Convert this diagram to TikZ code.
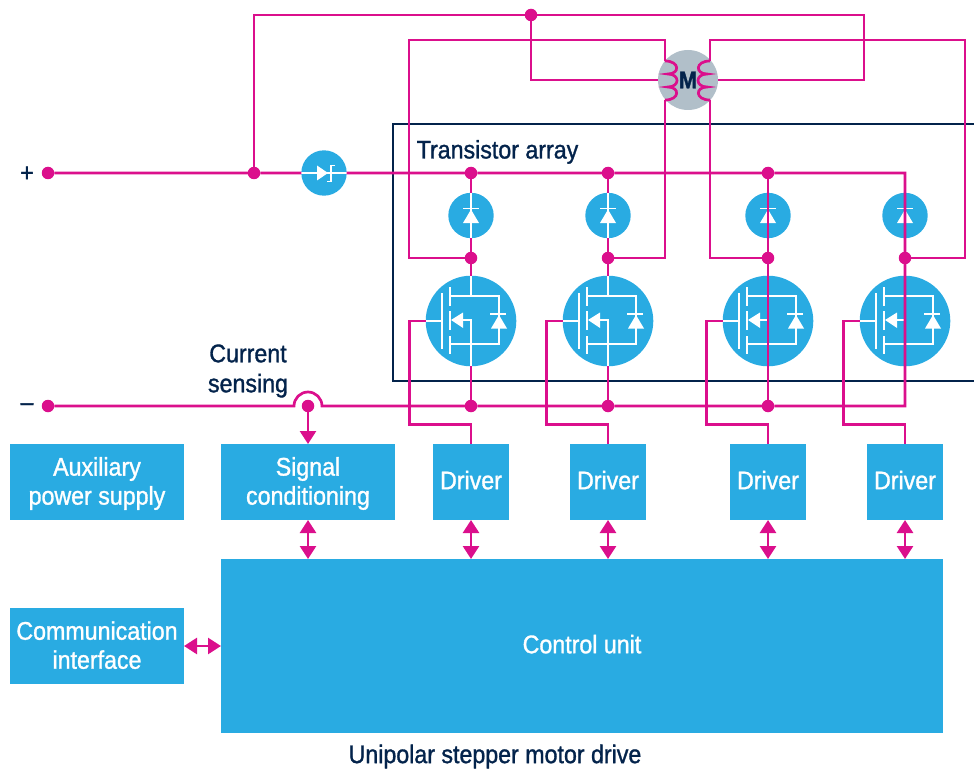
\documentclass[tikz,border=0pt]{standalone}
\usepackage{fontspec}
\setmainfont[FakeStretch=0.91,FakeBold=1.2]{Liberation Sans}
\usetikzlibrary{arrows.meta,calc}
\definecolor{stpink}{HTML}{DB0F8C}
\definecolor{stblue}{HTML}{29ABE2}
\definecolor{stnavy}{HTML}{03234B}
\definecolor{stgrey}{HTML}{B1BFC9}
\newcommand{\toppad}{\rule{0pt}{21.5pt}}
\newcommand{\botpad}[1]{\rule[-#1]{0pt}{#1}}

\begin{document}
\begin{tikzpicture}[x=1pt,y=-1pt,>={Triangle[length=13pt,width=16pt]},
    wire/.style={draw=stpink,line width=2.7pt},
    whiteline/.style={draw=white,line width=1.9pt},
    dotnode/.style={circle,fill=stpink,inner sep=0pt,outer sep=0pt,minimum size=12.5pt},
    roundnode/.style={circle,fill=stblue,inner sep=0pt,outer sep=0pt},
    boxnode/.style={fill=stblue,text=white,inner sep=0pt,outer sep=0pt,align=center,font=\fontsize{25.5}{29}\selectfont},
    labelnode/.style={text=stnavy,inner sep=0pt,align=center,font=\fontsize{25.5}{30}\selectfont},
    diodepic/.pic={
        \draw[whiteline] (0,-22.7) -- (0,22.7);
        \draw[whiteline] (-8,-7) -- (8,-7);
        \fill[white] (0,-6) -- (8,7.5) -- (-8,7.5) -- cycle;
    },
    mosfetpic/.pic={
        \draw[whiteline] (-45.3,0) -- (-29,0);
        \draw[whiteline] (-29,-28) -- (-29,28);
        \draw[whiteline] (-21,-34) -- (-21,-15);
        \draw[whiteline] (-21,-10) -- (-21,9);
        \draw[whiteline] (-21,15) -- (-21,33);
        \draw[whiteline] (0,-45.3) -- (0,-25);
        \draw[whiteline] (-21,-25) -- (28,-25) -- (28,23) -- (-21,23);
        \draw[whiteline] (-10,-1) -- (0,-1) -- (0,45.3);
        \fill[white] (-20,-1) -- (-8,-8.5) -- (-8,7) -- cycle;
        \draw[whiteline] (19,-7) -- (35,-7);
        \fill[white] (28,-6) -- (36,7.5) -- (20,7.5) -- cycle;
    },
]
    \useasboundingbox (0,0) rectangle (974,770);
    % transistor array frame
    \draw[stnavy,line width=2.5pt] (975,124) -- (393,124) -- (393,381) -- (975,381);
    \node[labelnode,anchor=base west] at (416.5,158.5) (arraylabel) {Transistor array};

    % supply rails
    \node[labelnode] at (27,174) (plusmark) {+};
    \node[labelnode] at (27,407) (minusmark) {--};
    \node[dotnode] at (48,173) (plusdot) {};
    \node[dotnode] at (48,406) (minusdot) {};
    \node[dotnode] at (254,173) (junction) {};
    \node[dotnode] at (531,15) (tapdot) {};
    \node[dotnode] at (308,406) (sensedot) {};
    \node[roundnode,minimum size=45.4pt] at (324,173) (zener) {};
    \node[circle,fill=stgrey,inner sep=0pt,outer sep=0pt,minimum size=60pt,text=stnavy,font=\fontsize{24}{29}\selectfont\bfseries] at (688,80) (motor) {M};
    \coordinate (topcorner) at (864,15);
    \coordinate (leadleft) at (409,40);
    \coordinate (leadright) at (965,40);
    \coordinate (coilLtop) at (665,61);
    \coordinate (coilLbot) at (665,100);
    \coordinate (coilRtop) at (710,61);
    \coordinate (coilRbot) at (710,100);
    \coordinate (arcright) at (322,406);

    % blocks
    \node[boxnode,minimum width=174pt,minimum height=76pt] at (97,482) (auxbox) {\toppad Auxiliary\\power supply};
    \node[boxnode,minimum width=174pt,minimum height=76pt] at (308,482) (signalbox) {\toppad Signal\\conditioning};
    \node[boxnode,minimum width=174pt,minimum height=76pt] at (97,646) (commbox) {Communication\\interface\botpad{2pt}};
    \node[boxnode,minimum width=722pt,minimum height=174pt] at (582,646) (controlbox) {Control unit\botpad{4pt}};
    \node[labelnode] at (495,756.5) (titlelabel) {Unipolar stepper motor drive};
    \node[labelnode] at (248,371) (sensinglabel) {Current\\sensing};

    % one column per transistor
    \foreach \i/\cx in {a/471,b/608,c/768,d/905} {
        \node[roundnode,minimum size=45.4pt] at (\cx,215.5) (diode\i) {};
        \node[roundnode,minimum size=90.6pt] at (\cx,321) (mos\i) {};
        \node[dotnode] at (\cx,258) (mid\i) {};
        \node[boxnode,minimum width=76pt,minimum height=76pt] at (\cx,482) (driver\i) {Driver\botpad{4pt}};
        \coordinate (gate\i) at (\cx-61.5,424.5);
        \pic at (diode\i) {diodepic};
        \pic at (mos\i) {mosfetpic};
        \draw[wire] (mos\i.west) -| (gate\i) -| (driver\i.north);
        \draw[wire,<->] (driver\i.south) -- (controlbox.north -| driver\i.south);
    }
    \foreach \i/\cx in {a/471,b/608,c/768} {
        \node[dotnode] at (\cx,173) (top\i) {};
        \node[dotnode] at (\cx,406) (bot\i) {};
    }
    \coordinate (topd) at (905,173);
    \coordinate (botd) at (905,406);

    % zener symbol
    \draw[whiteline] (zener.west) -- (zener.east);
    \fill[white] (328,173) -- (317,165.5) -- (317,180.5) -- cycle;
    \draw[whiteline] (335,165.5) -- (331,165.5) -- (331,181.5) -- (327,181.5);

    % wiring
    \draw[wire] (plusdot) -- (junction) -- (zener) -- (topa) -- (topb) -- (topc) -- (topd) -- (botd) -- (botc) -- (botb) -- (bota) -- (arcright) arc[start angle=360,end angle=180,radius=14] -- (minusdot);
    \draw[wire] (junction) |- (tapdot);
    \draw[wire] (tapdot) -- (topcorner) |- (motor);
    \draw[wire] (tapdot) |- (motor);
    \draw[wire] (mida) -| (leadleft) -| (coilLtop);
    \draw[wire] (midb) -| (coilLbot);
    \draw[wire] (coilRtop) |- (leadright) |- (midd);
    \draw[wire] (coilRbot) |- (midc);
    \draw[wire] (coilLtop) .. controls (680,61) and (680,74) .. (668,74) .. controls (680,74) and (680,87) .. (668,87) .. controls (680,87) and (680,100) .. (coilLbot);
    \draw[wire] (coilRtop) .. controls (695,61) and (695,74) .. (707,74) .. controls (695,74) and (695,87) .. (707,87) .. controls (695,87) and (695,100) .. (coilRbot);
    \foreach \i in {a,b} {
        \draw[wire] (top\i) -- (diode\i);
        \draw[wire] (diode\i) -- (mid\i);
        \draw[wire] (mid\i) -- (mos\i);
        \draw[wire] (mos\i) -- (bot\i);
    }
    \draw[wire] (topc) -- (botc);
    \draw[wire] (topd) -- (botd);
    \draw[wire,->] (sensedot) -- (signalbox.north);
    \draw[wire,<->] (signalbox.south) -- (controlbox.north -| signalbox.south);
    \draw[wire,<->] (commbox.east) -- (controlbox.west |- commbox.east);
\end{tikzpicture}
\end{document}
